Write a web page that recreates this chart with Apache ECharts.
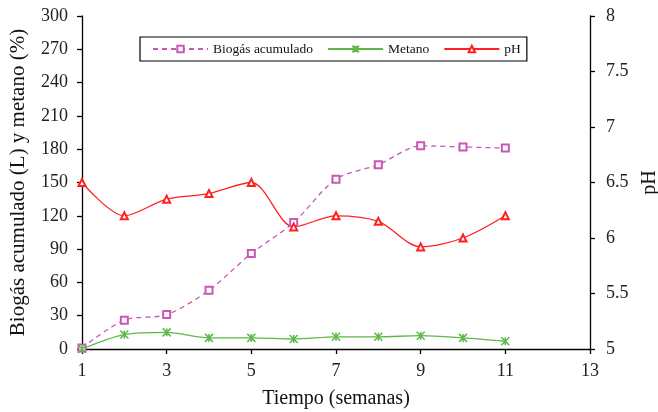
<!DOCTYPE html>
<html><head><meta charset="utf-8">
<script src="https://cdn.jsdelivr.net/npm/echarts@6/dist/echarts.min.js"></script>
<style>html,body{margin:0;padding:0;background:#fff}#c{width:658px;height:412px}</style>
</head><body><div id="c"></div>
<script>
const xTicks = ['1','2','3','4','5','6','7','8','9','10','11','12','13'];
const biogas = [1, 26, 31, 53, 86, 114, 153, 166, 183, 182, 181];
const metano = [0, 13, 15, 10, 10, 9, 11, 11, 12, 10, 7];
const ph = [6.5, 6.2, 6.35, 6.4, 6.5, 6.1, 6.2, 6.15, 5.92, 6.0, 6.2];

const FONT = '"Liberation Serif","Times New Roman",serif';
const chart = echarts.init(document.getElementById('c'), null, {renderer:'canvas'});
const axisCommon = {
  axisLine:{show:true,lineStyle:{color:'#000',width:1.3}},
  axisTick:{show:true,inside:false,length:5,lineStyle:{color:'#000',width:1.3}},
  splitLine:{show:false},
  axisLabel:{color:'#222',fontFamily:FONT,fontSize:18},
  nameTextStyle:{color:'#111',fontFamily:FONT,fontSize:20}
};
chart.setOption({
  animation:false,
  backgroundColor:'#fff',
  textStyle:{fontFamily:FONT},
  grid:{left:82,right:68,top:16,bottom:63,containLabel:false,outerBoundsMode:'none'},
  legend:{
    left:140, top:37, padding:[5,6,5,12],
    borderColor:'#000', borderWidth:1.2, borderRadius:0,
    itemWidth:55, itemHeight:8, itemGap:14,
    textStyle:{fontFamily:FONT,fontSize:13.5,color:'#111'},
    data:['Biogás acumulado','Metano','pH']
  },
  xAxis:Object.assign({}, axisCommon, {
    type:'category', data:xTicks, boundaryGap:false,
    axisLabel:Object.assign({}, axisCommon.axisLabel, {interval:1, margin:13}),
    axisTick:Object.assign({}, axisCommon.axisTick, {interval:1, alignWithLabel:true}),
    name:'Tiempo (semanas)', nameLocation:'middle', nameGap:40
  }),
  yAxis:[
    Object.assign({}, axisCommon, {
      type:'value', min:0, max:300, interval:30, position:'left',
      axisLabel:Object.assign({}, axisCommon.axisLabel, {margin:14}),
      name:'Biogás acumulado (L) y metano (%)', nameLocation:'middle', nameRotate:90, nameGap:53,
      nameTextStyle:{color:'#111',fontFamily:FONT,fontSize:21}
    }),
    Object.assign({}, axisCommon, {
      type:'value', min:5, max:8, interval:0.5, position:'right',
      axisLabel:Object.assign({}, axisCommon.axisLabel, {margin:16}),
      name:'pH', nameLocation:'middle', nameRotate:90, nameGap:48
    })
  ],
  series:[
    {name:'Biogás acumulado', type:'line', yAxisIndex:0, data:biogas, smooth:0.3,
     symbol:'emptyRect', symbolSize:7,
     lineStyle:{color:'#C957B8',width:1.3,type:[5,4]},
     itemStyle:{color:'#C957B8',borderColor:'#C957B8',borderWidth:1.3}},
    {name:'Metano', type:'line', yAxisIndex:0, data:metano, smooth:0.3,
     symbol:'path://M0,0L10,10M10,0L0,10M5,0L5,10', symbolSize:8,
     lineStyle:{color:'#5DB84A',width:1.3},
     itemStyle:{color:'#5DB84A',borderColor:'#5DB84A',borderWidth:1.5}},
    {name:'pH', type:'line', yAxisIndex:1, data:ph, smooth:0.3,
     symbol:'emptyTriangle', symbolSize:7,
     lineStyle:{color:'#FF2020',width:1.3},
     itemStyle:{color:'#FF2020',borderColor:'#FF2020',borderWidth:1.3}}
  ]
});
</script></body></html>
